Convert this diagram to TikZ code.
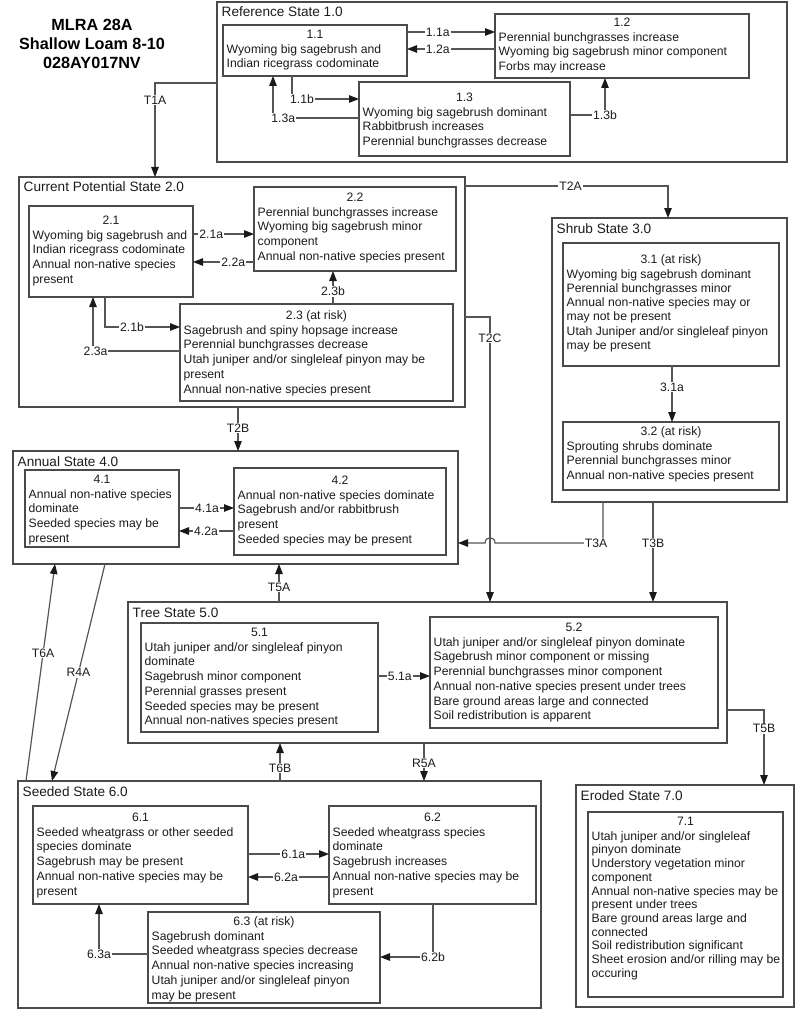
\documentclass[tikz,border=0pt]{standalone}
\usepackage{fontspec}
\setmainfont{Liberation Sans}
\usetikzlibrary{arrows.meta,calc}
\definecolor{bordc}{HTML}{4A4A4A}
\definecolor{linec}{HTML}{555555}
\definecolor{txtc}{HTML}{1C1C1C}
\newcommand{\mystrut}{\rule{0pt}{11pt}}
\tikzset{
  ibx/.style={draw=bordc, line width=1.5pt, rectangle, inner sep=0pt, outer sep=0pt},
  obx/.style={draw=bordc, line width=1.6pt, rectangle, inner sep=0pt, outer sep=0pt},
  numtxt/.style={anchor=base, inner sep=0pt, text=txtc, font=\fontsize{12.2}{14.7}\selectfont},
  bodytxt/.style={anchor=north west, inner sep=0pt, align=left, text=txtc, font=\fontsize{12.2}{14.7}\selectfont},
  tightbody/.style={font=\fontsize{12.2}{13.7}\selectfont},
  sttl/.style={anchor=base west, inner sep=0pt, text=txtc, font=\fontsize{13.6}{16}\selectfont},
  con/.style={draw=linec, line width=1.2pt},
  arr/.style={con, -{Triangle[length=10pt,width=7.5pt,color=black!90]}},
  lbl/.style={fill=white, inner sep=1pt, text=txtc, font=\fontsize{12.2}{13}\selectfont},
}
% inner box: [style]{name}{x1}{y1}{x2}{y2}{number centre y}{number}{body}
\newcommand{\ibox}[9][]{%
  \node[ibx, minimum width={#5-#3}, minimum height={#6-#4}] (#2) at ({(#3+#5)/2},{(#4+#6)/2}) {};
  \node[numtxt] (#2n) at ({(#3+#5)/2},{#7+4.4}) {#8};
  \node[bodytxt,#1] (#2t) at ({#3+3.5},{#7+8}) {\mystrut #9};
}
% outer state box: {name}{x1}{y1}{x2}{y2}{title}
\newcommand{\stbox}[6]{%
  \node[obx, minimum width={#4-#2}, minimum height={#5-#3}] (#1) at ({(#2+#4)/2},{(#3+#5)/2}) {};
  \node[sttl] (#1t) at ({#2+4.5},{#3+15}) {#6};
}
\begin{document}
\begin{tikzpicture}[x=1pt,y=-1pt]
\useasboundingbox (0,0) rectangle (800,1011);
\fill[white] (0,0) rectangle (800,1011);

\node[font=\fontsize{16.2}{19}\selectfont\bfseries, align=center, text=black, inner sep=0pt] (title) at (92,44) {MLRA 28A\\Shallow Loam 8-10\\028AY017NV};

% ---------- states ----------
\stbox{s1}{217}{2}{787}{162}{Reference State 1.0}
\stbox{s2}{19}{177}{465}{407}{Current Potential State 2.0}
\stbox{s3}{552}{218}{787}{502}{Shrub State 3.0}
\stbox{s4}{13}{451}{458}{564}{Annual State 4.0}
\stbox{s5}{128}{602}{727}{743}{Tree State 5.0}
\stbox{s6}{18}{781}{541}{1008}{Seeded State 6.0}
\stbox{s7}{576}{785}{794}{1007}{Eroded State 7.0}

% ---------- community phases ----------
\ibox{b11}{223}{25}{407}{76}{34}{1.1}{Wyoming big sagebrush and\\Indian ricegrass codominate}
\ibox{b12}{495}{14}{749}{78}{22}{1.2}{Perennial bunchgrasses increase\\Wyoming big sagebrush minor component\\Forbs may increase}
\ibox{b13}{359}{82}{570}{156}{97}{1.3}{Wyoming big sagebrush dominant\\Rabbitbrush increases\\Perennial bunchgrasses decrease}

\ibox{b21}{29}{206}{193}{297}{220}{2.1}{Wyoming big sagebrush and\\Indian ricegrass codominate\\Annual non-native species\\present}
\ibox{b22}{254}{187}{456}{271}{197}{2.2}{Perennial bunchgrasses increase\\Wyoming big sagebrush minor\\component\\Annual non-native species present}
\ibox{b23}{180}{304}{453}{401}{315}{2.3 (at risk)}{Sagebrush and spiny hopsage increase\\Perennial bunchgrasses decrease\\Utah juniper and/or singleleaf pinyon may be\\present\\Annual non-native species present}

\ibox[font=\fontsize{12.2}{14.2}\selectfont]{b31}{563}{243}{779}{366}{259}{3.1 (at risk)}{Wyoming big sagebrush dominant\\Perennial bunchgrasses minor\\Annual non-native species may or\\may not be present\\Utah Juniper and/or singleleaf pinyon\\may be present}
\ibox{b32}{563}{422}{779}{490}{431}{3.2 (at risk)}{Sprouting shrubs dominate\\Perennial bunchgrasses minor\\Annual non-native species present}

\ibox{b41}{25}{470}{179}{547}{479}{4.1}{Annual non-native species\\dominate\\Seeded species may be\\present}
\ibox{b42}{234}{468}{446}{555}{480}{4.2}{Annual non-native species dominate\\Sagebrush and/or rabbitbrush\\present\\Seeded species may be present}

\ibox{b51}{141}{623}{378}{732}{632}{5.1}{Utah juniper and/or singleleaf pinyon\\dominate\\Sagebrush minor component\\Perennial grasses present\\Seeded species may be present\\Annual non-natives species present}
\ibox{b52}{430}{617}{718}{728}{627}{5.2}{Utah juniper and/or singleleaf pinyon dominate\\Sagebrush minor component or missing\\Perennial bunchgrasses minor component\\Annual non-native species present under trees\\Bare ground areas large and connected\\Soil redistribution is apparent}

\ibox{b61}{33}{806}{248}{904}{817}{6.1}{Seeded wheatgrass or other seeded\\species dominate\\Sagebrush may be present\\Annual non-native species may be\\present}
\ibox{b62}{329}{806}{536}{904}{817}{6.2}{Seeded wheatgrass species\\dominate\\Sagebrush increases\\Annual non-native species may be\\present}
\ibox{b63}{148}{912}{380}{1003}{921}{6.3 (at risk)}{Sagebrush dominant\\Seeded wheatgrass species decrease\\Annual non-native species increasing\\Utah juniper and/or singleleaf pinyon\\may be present}

\ibox[tightbody]{b71}{588}{812}{783}{997}{821}{7.1}{Utah juniper and/or singleleaf\\pinyon dominate\\Understory vegetation minor\\component\\Annual non-native species may be\\present under trees\\Bare ground areas large and\\connected\\Soil redistribution significant\\Sheet erosion and/or rilling may be\\occuring}

% ---------- helper coordinates ----------
\coordinate (k11a) at (0,32);
\coordinate (k12a) at (0,49);
\coordinate (k11b) at (292,99);
\coordinate (k13a) at (273,118);
\coordinate (k13b) at (605,115);
\coordinate (kT1A) at (155,83);
\coordinate (kT2A) at (668,186);
\coordinate (kT2C) at (490,317);
\coordinate (xT2B) at (238,0);
\coordinate (k21a) at (0,234);
\coordinate (k22a) at (0,262);
\coordinate (x23b) at (333,0);
\coordinate (k21b) at (105,327);
\coordinate (k23a) at (93,351);
\coordinate (x31a) at (672,0);
\coordinate (kT3A) at (603,543);
\coordinate (xT3B) at (653,0);
\coordinate (k41a) at (0,508);
\coordinate (k42a) at (0,531);
\coordinate (xT5A) at (279,0);
\coordinate (k51a) at (0,676);
\coordinate (kT5B) at (764,710);
\coordinate (xT6B) at (280,0);
\coordinate (xR5A) at (424,0);
\coordinate (xT6Aa) at (26,0);
\coordinate (xT6Ab) at (55,0);
\coordinate (xR4Aa) at (105,0);
\coordinate (xR4Ab) at (52,0);
\coordinate (k61a) at (0,854);
\coordinate (k62a) at (0,877);
\coordinate (k63a) at (99,954);
\coordinate (k62b) at (433,957);
\coordinate (hopR) at ($(kT2C |- kT3A)+(5,0)$);
\coordinate (hopL) at ($(kT2C |- kT3A)+(-5,0)$);

% ---------- connectors: reference state ----------
\draw[arr] (b11.east |- k11a) -- node[lbl,pos=.35]{1.1a} (b12.west |- k11a);
\draw[arr] (b12.west |- k12a) -- node[lbl,pos=.65]{1.2a} (b11.east |- k12a);
\draw[arr] (b11.south -| k11b) -- (k11b) -- node[lbl,pos=.15]{1.1b} (b13.west |- k11b);
\draw[arr] (b13.west |- k13a) -- node[lbl,pos=.88]{1.3a} (k13a) -- (b11.south -| k13a);
\draw[arr] (b13.east |- k13b) -- (k13b) node[lbl]{1.3b} -- (b12.south -| k13b);

% ---------- transitions ----------
\draw[arr] (s1.west |- kT1A) -- (kT1A) -- node[lbl,pos=.18]{T1A} (s2.north -| kT1A);
\draw[arr] (s2.east |- kT2A) -- node[lbl,pos=.52]{T2A} (kT2A) -- (s3.north -| kT2A);
\draw[arr] (s2.east |- kT2C) -- (kT2C) -- node[lbl,pos=.074]{T2C} (s5.north -| kT2C);
\draw[arr] (s2.south -| xT2B) -- node[lbl,pos=.48]{T2B} (s4.north -| xT2B);

% ---------- current potential state ----------
\draw[arr] (b21.east |- k21a) -- node[lbl,pos=.30]{2.1a} (b22.west |- k21a);
\draw[arr] (b22.west |- k22a) -- node[lbl,pos=.34]{2.2a} (b21.east |- k22a);
\draw[arr] (b23.north -| x23b) -- node[lbl,pos=.39]{2.3b} (b22.south -| x23b);
\draw[arr] (b21.south -| k21b) -- (k21b) -- node[lbl,pos=.36]{2.1b} (b23.west |- k21b);
\draw[arr] (b23.west |- k23a) -- node[lbl,pos=.97]{2.3a} (k23a) -- (b21.south -| k23a);

% ---------- shrub state ----------
\draw[arr] (b31.south -| x31a) -- node[lbl,pos=.375]{3.1a} (b32.north -| x31a);
\draw[arr] (s3.south -| kT3A) -- (kT3A) node[lbl,xshift=-7pt]{T3A} -- (hopR) .. controls ($(hopR)+(0,-7)$) and ($(hopL)+(0,-7)$) .. (hopL) -- (s4.east |- kT3A);
\draw[arr] (s3.south -| xT3B) -- node[lbl,pos=.41]{T3B} (s5.north -| xT3B);

% ---------- annual state ----------
\draw[arr] (b41.east |- k41a) -- node[lbl,pos=.51]{4.1a} (b42.west |- k41a);
\draw[arr] (b42.west |- k42a) -- node[lbl,pos=.51]{4.2a} (b41.east |- k42a);
\draw[arr] (s5.north -| xT5A) -- node[lbl,pos=.39]{T5A} (s4.south -| xT5A);
\draw[arr] (s6.north -| xT6Aa) -- node[lbl,pos=.59]{T6A} (s4.south -| xT6Ab);
\draw[arr] (s4.south -| xR4Aa) -- node[lbl,pos=.5]{R4A} (s6.north -| xR4Ab);

% ---------- tree state ----------
\draw[arr] (b51.east |- k51a) -- node[lbl,pos=.42]{5.1a} (b52.west |- k51a);
\draw[arr] (s5.east |- kT5B) -- (kT5B) -- node[lbl,pos=.25]{T5B} (s7.north -| kT5B);
\draw[arr] (s6.north -| xT6B) -- node[lbl,pos=.34]{T6B} (s5.south -| xT6B);
\draw[arr] (s5.south -| xR5A) -- node[lbl,pos=.53]{R5A} (s6.north -| xR5A);

% ---------- seeded state ----------
\draw[arr] (b61.east |- k61a) -- node[lbl,pos=.56]{6.1a} (b62.west |- k61a);
\draw[arr] (b62.west |- k62a) -- node[lbl,pos=.53]{6.2a} (b61.east |- k62a);
\draw[arr] (b63.west |- k63a) -- (k63a) node[lbl]{6.3a} -- (b61.south -| k63a);
\draw[arr] (b62.south -| k62b) -- (k62b) node[lbl]{6.2b} -- (b63.east |- k62b);
\end{tikzpicture}
\end{document}
